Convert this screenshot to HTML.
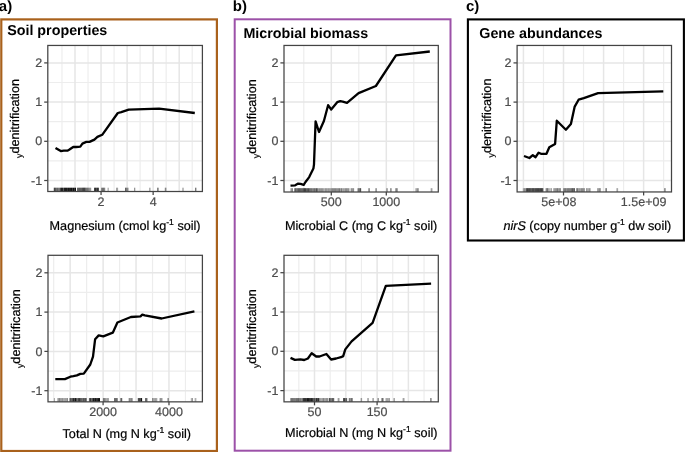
<!DOCTYPE html><html><head><meta charset="utf-8"><style>html,body{margin:0;padding:0;background:#fff;}svg{display:block;text-rendering:geometricPrecision;will-change:transform;filter:blur(0.3px);}</style></head><body>
<svg width="685" height="452" viewBox="0 0 685 452" font-family='"Liberation Sans", sans-serif'>
<rect width="685" height="452" fill="#fff"/>
<rect x="1.3" y="19.4" width="215.6" height="431.6" fill="none" stroke="#a9611c" stroke-width="2.2"/>
<rect x="234.7" y="19.3" width="215.8" height="431.4" fill="none" stroke="#9c51a8" stroke-width="2"/>
<rect x="467.9" y="19.4" width="216" height="221.1" fill="none" stroke="#000" stroke-width="2.1"/>
<g font-size="15" font-weight="bold" fill="#000"><text x="-1.2" y="10.6">a)</text><text x="232.8" y="10.6">b)</text><text x="466" y="10.6">c)</text></g>
<g font-size="14.3" font-weight="bold" fill="#000"><text x="7.2" y="35.2">Soil properties</text><text x="243.4" y="37.9">Microbial biomass</text><text x="479.3" y="37.9">Gene abundances</text></g>
<g stroke="#ededed" stroke-width="1.2"><line x1="47.8" x2="202.4" y1="160.9" y2="160.9"/><line x1="47.8" x2="202.4" y1="121.7" y2="121.7"/><line x1="47.8" x2="202.4" y1="82.5" y2="82.5"/><line x1="61.98" x2="61.98" y1="45.45" y2="191.5"/><line x1="88.03" x2="88.03" y1="45.45" y2="191.5"/><line x1="114.08" x2="114.08" y1="45.45" y2="191.5"/><line x1="140.12" x2="140.12" y1="45.45" y2="191.5"/><line x1="166.18" x2="166.18" y1="45.45" y2="191.5"/><line x1="192.23" x2="192.23" y1="45.45" y2="191.5"/></g>
<g stroke="#e6e6e6" stroke-width="1.5"><line x1="47.8" x2="202.4" y1="180.5" y2="180.5"/><line x1="47.8" x2="202.4" y1="141.3" y2="141.3"/><line x1="47.8" x2="202.4" y1="102.1" y2="102.1"/><line x1="47.8" x2="202.4" y1="62.9" y2="62.9"/><line x1="75" x2="75" y1="45.45" y2="191.5"/><line x1="101.05" x2="101.05" y1="45.45" y2="191.5"/><line x1="127.1" x2="127.1" y1="45.45" y2="191.5"/><line x1="153.15" x2="153.15" y1="45.45" y2="191.5"/><line x1="179.2" x2="179.2" y1="45.45" y2="191.5"/></g>
<g fill="#000"><rect x="53.8" y="187.7" width="1.01" height="3.8" fill-opacity="0.84"/><rect x="54.81" y="187.7" width="1.01" height="3.8" fill-opacity="0.74"/><rect x="55.83" y="187.7" width="1.01" height="3.8" fill-opacity="0.60"/><rect x="56.84" y="187.7" width="1.01" height="3.8" fill-opacity="0.68"/><rect x="57.86" y="187.7" width="1.01" height="3.8" fill-opacity="0.56"/><rect x="58.87" y="187.7" width="1.01" height="3.8" fill-opacity="0.56"/><rect x="59.89" y="187.7" width="1.01" height="3.8" fill-opacity="0.78"/><rect x="60.9" y="187.7" width="1.01" height="3.8" fill-opacity="0.94"/><rect x="61.91" y="187.7" width="1.01" height="3.8" fill-opacity="0.92"/><rect x="62.91" y="187.7" width="1.01" height="3.8" fill-opacity="0.68"/><rect x="63.92" y="187.7" width="1.01" height="3.8" fill-opacity="0.95"/><rect x="64.93" y="187.7" width="1.01" height="3.8" fill-opacity="0.95"/><rect x="65.93" y="187.7" width="1.01" height="3.8" fill-opacity="0.95"/><rect x="66.94" y="187.7" width="1.01" height="3.8" fill-opacity="0.84"/><rect x="67.95" y="187.7" width="1.01" height="3.8" fill-opacity="0.95"/><rect x="68.95" y="187.7" width="1.01" height="3.8" fill-opacity="0.89"/><rect x="69.96" y="187.7" width="1.01" height="3.8" fill-opacity="0.91"/><rect x="70.97" y="187.7" width="1.01" height="3.8" fill-opacity="0.95"/><rect x="71.97" y="187.7" width="1.01" height="3.8" fill-opacity="0.79"/><rect x="72.98" y="187.7" width="1.01" height="3.8" fill-opacity="0.95"/><rect x="73.99" y="187.7" width="1.01" height="3.8" fill-opacity="0.77"/><rect x="74.99" y="187.7" width="1.01" height="3.8" fill-opacity="0.95"/><rect x="77.2" y="187.7" width="1.03" height="3.8" fill-opacity="0.75"/><rect x="78.23" y="187.7" width="1.03" height="3.8" fill-opacity="0.70"/><rect x="79.25" y="187.7" width="1.03" height="3.8" fill-opacity="0.76"/><rect x="80.28" y="187.7" width="1.03" height="3.8" fill-opacity="0.73"/><rect x="81.3" y="187.7" width="1.03" height="3.8" fill-opacity="0.74"/><rect x="82.33" y="187.7" width="1.03" height="3.8" fill-opacity="0.89"/><rect x="83.35" y="187.7" width="1.03" height="3.8" fill-opacity="0.95"/><rect x="84.38" y="187.7" width="1.03" height="3.8" fill-opacity="0.94"/><rect x="85.4" y="187.7" width="0.97" height="3.8" fill-opacity="0.59"/><rect x="86.37" y="187.7" width="0.97" height="3.8" fill-opacity="0.65"/><rect x="87.33" y="187.7" width="0.97" height="3.8" fill-opacity="0.59"/><rect x="88.3" y="187.7" width="0.97" height="3.8" fill-opacity="0.51"/><rect x="89.27" y="187.7" width="0.97" height="3.8" fill-opacity="0.45"/><rect x="90.23" y="187.7" width="0.97" height="3.8" fill-opacity="0.43"/><rect x="94.1" y="187.7" width="0.94" height="3.8" fill-opacity="0.83"/><rect x="95.04" y="187.7" width="0.94" height="3.8" fill-opacity="0.87"/><rect x="95.98" y="187.7" width="0.94" height="3.8" fill-opacity="0.73"/><rect x="96.92" y="187.7" width="0.94" height="3.8" fill-opacity="0.90"/><rect x="97.86" y="187.7" width="0.94" height="3.8" fill-opacity="0.87"/><rect x="101.2" y="187.7" width="1" height="3.8" fill-opacity="0.53"/><rect x="102.2" y="187.7" width="1" height="3.8" fill-opacity="0.63"/><rect x="103.2" y="187.7" width="1" height="3.8" fill-opacity="0.62"/><rect x="104.2" y="187.7" width="1" height="3.8" fill-opacity="0.50"/><rect x="107.6" y="187.7" width="1.1" height="3.8" fill-opacity="0.39"/><rect x="116.3" y="187.7" width="0.9" height="3.8" fill-opacity="0.52"/><rect x="117.2" y="187.7" width="0.9" height="3.8" fill-opacity="0.36"/><rect x="125.1" y="187.7" width="1.13" height="3.8" fill-opacity="0.69"/><rect x="126.23" y="187.7" width="1.13" height="3.8" fill-opacity="0.48"/><rect x="127.37" y="187.7" width="1.13" height="3.8" fill-opacity="0.46"/><rect x="134" y="187.7" width="1.3" height="3.8" fill-opacity="0.41"/><rect x="149.2" y="187.7" width="1.3" height="3.8" fill-opacity="0.39"/><rect x="157.1" y="187.7" width="0.75" height="3.8" fill-opacity="0.57"/><rect x="157.85" y="187.7" width="0.75" height="3.8" fill-opacity="0.56"/><rect x="164.8" y="187.7" width="0.75" height="3.8" fill-opacity="0.49"/><rect x="165.55" y="187.7" width="0.75" height="3.8" fill-opacity="0.57"/><rect x="182.3" y="187.7" width="1.4" height="3.8" fill-opacity="0.36"/><rect x="195" y="187.7" width="1.4" height="3.8" fill-opacity="0.52"/></g>
<polyline points="55.5,147.9 60.8,151.1 63.8,150.7 67.4,150.7 69.1,149.8 73.2,147 76.2,147 80.3,146.6 82.4,143.6 86.3,141.9 89.5,141.9 94.4,139.6 97.4,136.9 102.2,134.8 117.8,113 121.3,112.1 128.7,109.6 159.1,108.6 194.8,113" fill="none" stroke="#000" stroke-width="2.3" stroke-linejoin="round" stroke-linecap="butt"/>
<rect x="47.8" y="45.45" width="154.6" height="146.05" fill="none" stroke="#444444" stroke-width="1.25"/>
<g stroke="#444444" stroke-width="1.25"><line x1="44.2" x2="47.8" y1="180.5" y2="180.5"/><line x1="44.2" x2="47.8" y1="141.3" y2="141.3"/><line x1="44.2" x2="47.8" y1="102.1" y2="102.1"/><line x1="44.2" x2="47.8" y1="62.9" y2="62.9"/><line x1="101.05" x2="101.05" y1="191.5" y2="195"/><line x1="153.15" x2="153.15" y1="191.5" y2="195"/></g>
<g fill="#4d4d4d" stroke="#4d4d4d" stroke-width="0.2" font-size="12.5"><text x="42.2" y="184.6" text-anchor="end">-1</text><text x="42.2" y="145.4" text-anchor="end">0</text><text x="42.2" y="106.2" text-anchor="end">1</text><text x="42.2" y="67" text-anchor="end">2</text><text x="101.05" y="205.7" text-anchor="middle">2</text><text x="153.15" y="205.7" text-anchor="middle">4</text></g>
<text transform="translate(19.4,118.47) rotate(-90)" text-anchor="middle" font-size="12.65" fill="#000" stroke="#000" stroke-width="0.2"><tspan font-size="8.7" dy="3">y</tspan><tspan dy="-3">denitrification</tspan></text>
<text x="125.1" y="229.7" text-anchor="middle" font-size="12.65" fill="#000" stroke="#000" stroke-width="0.2">Magnesium (cmol kg<tspan font-size="8.6" dy="-5">-1</tspan><tspan dy="5"> soil)</tspan></text>
<g stroke="#ededed" stroke-width="1.2"><line x1="48" x2="202.4" y1="371.05" y2="371.05"/><line x1="48" x2="202.4" y1="331.75" y2="331.75"/><line x1="48" x2="202.4" y1="292.45" y2="292.45"/><line x1="53.69" x2="53.69" y1="255.3" y2="401.85"/><line x1="86.63" x2="86.63" y1="255.3" y2="401.85"/><line x1="119.57" x2="119.57" y1="255.3" y2="401.85"/><line x1="152.51" x2="152.51" y1="255.3" y2="401.85"/><line x1="185.45" x2="185.45" y1="255.3" y2="401.85"/></g>
<g stroke="#e6e6e6" stroke-width="1.5"><line x1="48" x2="202.4" y1="390.7" y2="390.7"/><line x1="48" x2="202.4" y1="351.4" y2="351.4"/><line x1="48" x2="202.4" y1="312.1" y2="312.1"/><line x1="48" x2="202.4" y1="272.8" y2="272.8"/><line x1="70.16" x2="70.16" y1="255.3" y2="401.85"/><line x1="103.1" x2="103.1" y1="255.3" y2="401.85"/><line x1="136.04" x2="136.04" y1="255.3" y2="401.85"/><line x1="168.98" x2="168.98" y1="255.3" y2="401.85"/></g>
<g fill="#000"><rect x="53.8" y="398.05" width="1.2" height="3.8" fill-opacity="0.32"/><rect x="57.3" y="398.05" width="0.96" height="3.8" fill-opacity="0.36"/><rect x="58.26" y="398.05" width="0.96" height="3.8" fill-opacity="0.45"/><rect x="59.23" y="398.05" width="0.96" height="3.8" fill-opacity="0.56"/><rect x="60.19" y="398.05" width="0.96" height="3.8" fill-opacity="0.38"/><rect x="61.15" y="398.05" width="0.96" height="3.8" fill-opacity="0.40"/><rect x="62.12" y="398.05" width="0.96" height="3.8" fill-opacity="0.46"/><rect x="63.08" y="398.05" width="0.96" height="3.8" fill-opacity="0.34"/><rect x="64.05" y="398.05" width="0.96" height="3.8" fill-opacity="0.36"/><rect x="65.01" y="398.05" width="0.96" height="3.8" fill-opacity="0.38"/><rect x="65.97" y="398.05" width="0.96" height="3.8" fill-opacity="0.37"/><rect x="66.94" y="398.05" width="0.96" height="3.8" fill-opacity="0.51"/><rect x="69.6" y="398.05" width="1.07" height="3.8" fill-opacity="0.82"/><rect x="70.67" y="398.05" width="1.07" height="3.8" fill-opacity="0.68"/><rect x="71.73" y="398.05" width="1.07" height="3.8" fill-opacity="0.74"/><rect x="72.8" y="398.05" width="1.07" height="3.8" fill-opacity="0.95"/><rect x="73.87" y="398.05" width="1.07" height="3.8" fill-opacity="0.73"/><rect x="74.93" y="398.05" width="1.07" height="3.8" fill-opacity="0.93"/><rect x="76" y="398.05" width="0.96" height="3.8" fill-opacity="0.69"/><rect x="76.96" y="398.05" width="0.96" height="3.8" fill-opacity="0.58"/><rect x="77.93" y="398.05" width="0.96" height="3.8" fill-opacity="0.79"/><rect x="78.89" y="398.05" width="0.96" height="3.8" fill-opacity="0.88"/><rect x="79.85" y="398.05" width="0.96" height="3.8" fill-opacity="0.74"/><rect x="80.82" y="398.05" width="0.96" height="3.8" fill-opacity="0.71"/><rect x="81.78" y="398.05" width="0.96" height="3.8" fill-opacity="0.59"/><rect x="82.75" y="398.05" width="0.96" height="3.8" fill-opacity="0.83"/><rect x="83.71" y="398.05" width="0.96" height="3.8" fill-opacity="0.68"/><rect x="84.67" y="398.05" width="0.96" height="3.8" fill-opacity="0.89"/><rect x="85.64" y="398.05" width="0.96" height="3.8" fill-opacity="0.77"/><rect x="88.9" y="398.05" width="1.01" height="3.8" fill-opacity="0.66"/><rect x="89.91" y="398.05" width="1.01" height="3.8" fill-opacity="0.84"/><rect x="90.92" y="398.05" width="1.01" height="3.8" fill-opacity="0.61"/><rect x="91.93" y="398.05" width="1.01" height="3.8" fill-opacity="0.71"/><rect x="92.94" y="398.05" width="1.01" height="3.8" fill-opacity="0.94"/><rect x="93.95" y="398.05" width="1.01" height="3.8" fill-opacity="0.80"/><rect x="94.95" y="398.05" width="1.01" height="3.8" fill-opacity="0.95"/><rect x="95.96" y="398.05" width="1.01" height="3.8" fill-opacity="0.81"/><rect x="96.97" y="398.05" width="1.01" height="3.8" fill-opacity="0.84"/><rect x="97.98" y="398.05" width="1.01" height="3.8" fill-opacity="0.92"/><rect x="98.99" y="398.05" width="1.01" height="3.8" fill-opacity="0.95"/><rect x="102.9" y="398.05" width="0.97" height="3.8" fill-opacity="0.53"/><rect x="103.87" y="398.05" width="0.97" height="3.8" fill-opacity="0.54"/><rect x="104.83" y="398.05" width="0.97" height="3.8" fill-opacity="0.45"/><rect x="105.8" y="398.05" width="0.97" height="3.8" fill-opacity="0.34"/><rect x="106.77" y="398.05" width="0.97" height="3.8" fill-opacity="0.37"/><rect x="107.73" y="398.05" width="0.97" height="3.8" fill-opacity="0.50"/><rect x="114" y="398.05" width="1" height="3.8" fill-opacity="0.58"/><rect x="115" y="398.05" width="1" height="3.8" fill-opacity="0.58"/><rect x="116" y="398.05" width="1" height="3.8" fill-opacity="0.58"/><rect x="117" y="398.05" width="1" height="3.8" fill-opacity="0.43"/><rect x="120.4" y="398.05" width="0.9" height="3.8" fill-opacity="0.68"/><rect x="121.3" y="398.05" width="0.9" height="3.8" fill-opacity="0.75"/><rect x="128.7" y="398.05" width="1.03" height="3.8" fill-opacity="0.55"/><rect x="129.72" y="398.05" width="1.03" height="3.8" fill-opacity="0.43"/><rect x="130.75" y="398.05" width="1.03" height="3.8" fill-opacity="0.54"/><rect x="131.78" y="398.05" width="1.03" height="3.8" fill-opacity="0.38"/><rect x="137.8" y="398.05" width="1.07" height="3.8" fill-opacity="0.78"/><rect x="138.88" y="398.05" width="1.07" height="3.8" fill-opacity="0.76"/><rect x="139.95" y="398.05" width="1.07" height="3.8" fill-opacity="0.70"/><rect x="141.03" y="398.05" width="1.07" height="3.8" fill-opacity="0.95"/><rect x="145.3" y="398.05" width="1.05" height="3.8" fill-opacity="0.83"/><rect x="146.35" y="398.05" width="1.05" height="3.8" fill-opacity="0.66"/><rect x="152" y="398.05" width="1.06" height="3.8" fill-opacity="0.43"/><rect x="153.06" y="398.05" width="1.06" height="3.8" fill-opacity="0.35"/><rect x="154.12" y="398.05" width="1.06" height="3.8" fill-opacity="0.36"/><rect x="155.18" y="398.05" width="1.06" height="3.8" fill-opacity="0.41"/><rect x="156.24" y="398.05" width="1.06" height="3.8" fill-opacity="0.37"/><rect x="159.6" y="398.05" width="0.97" height="3.8" fill-opacity="0.48"/><rect x="160.57" y="398.05" width="0.97" height="3.8" fill-opacity="0.52"/><rect x="161.53" y="398.05" width="0.97" height="3.8" fill-opacity="0.40"/><rect x="167.2" y="398.05" width="0.9" height="3.8" fill-opacity="0.32"/><rect x="168.1" y="398.05" width="0.9" height="3.8" fill-opacity="0.42"/><rect x="190.8" y="398.05" width="1.05" height="3.8" fill-opacity="0.31"/><rect x="191.85" y="398.05" width="1.05" height="3.8" fill-opacity="0.45"/><rect x="194.7" y="398.05" width="0.85" height="3.8" fill-opacity="0.39"/><rect x="195.55" y="398.05" width="0.85" height="3.8" fill-opacity="0.30"/></g>
<polyline points="55.3,379.2 64.9,379.1 70.4,376.7 73.4,376.2 76.9,375.4 80.3,373.9 83.8,373.7 90.3,364.5 93,356.6 95.1,339.3 98.7,335.4 103.3,336.3 112.8,332.7 117.4,322.5 130.9,317 140.5,316.3 142.3,314.6 144.8,315.4 161.6,318.5 194.4,311.3" fill="none" stroke="#000" stroke-width="2.3" stroke-linejoin="round" stroke-linecap="butt"/>
<rect x="48" y="255.3" width="154.4" height="146.55" fill="none" stroke="#444444" stroke-width="1.25"/>
<g stroke="#444444" stroke-width="1.25"><line x1="44.4" x2="48" y1="390.7" y2="390.7"/><line x1="44.4" x2="48" y1="351.4" y2="351.4"/><line x1="44.4" x2="48" y1="312.1" y2="312.1"/><line x1="44.4" x2="48" y1="272.8" y2="272.8"/><line x1="103.1" x2="103.1" y1="401.85" y2="405.35"/><line x1="168.98" x2="168.98" y1="401.85" y2="405.35"/></g>
<g fill="#4d4d4d" stroke="#4d4d4d" stroke-width="0.2" font-size="12.5"><text x="42.4" y="394.8" text-anchor="end">-1</text><text x="42.4" y="355.5" text-anchor="end">0</text><text x="42.4" y="316.2" text-anchor="end">1</text><text x="42.4" y="276.9" text-anchor="end">2</text><text x="103.1" y="416.05" text-anchor="middle">2000</text><text x="168.98" y="416.05" text-anchor="middle">4000</text></g>
<text transform="translate(19.6,328.58) rotate(-90)" text-anchor="middle" font-size="12.65" fill="#000" stroke="#000" stroke-width="0.2"><tspan font-size="8.7" dy="3">y</tspan><tspan dy="-3">denitrification</tspan></text>
<text x="126.8" y="437.5" text-anchor="middle" font-size="12.65" fill="#000" stroke="#000" stroke-width="0.2">Total N (mg N kg<tspan font-size="8.6" dy="-5">-1</tspan><tspan dy="5"> soil)</tspan></text>
<g stroke="#ededed" stroke-width="1.2"><line x1="284" x2="438.3" y1="160.9" y2="160.9"/><line x1="284" x2="438.3" y1="121.7" y2="121.7"/><line x1="284" x2="438.3" y1="82.5" y2="82.5"/><line x1="303.8" x2="303.8" y1="45.45" y2="192"/><line x1="358.8" x2="358.8" y1="45.45" y2="192"/><line x1="413.8" x2="413.8" y1="45.45" y2="192"/></g>
<g stroke="#e6e6e6" stroke-width="1.5"><line x1="284" x2="438.3" y1="180.5" y2="180.5"/><line x1="284" x2="438.3" y1="141.3" y2="141.3"/><line x1="284" x2="438.3" y1="102.1" y2="102.1"/><line x1="284" x2="438.3" y1="62.9" y2="62.9"/><line x1="331.3" x2="331.3" y1="45.45" y2="192"/><line x1="386.3" x2="386.3" y1="45.45" y2="192"/></g>
<g fill="#000"><rect x="290.4" y="188.2" width="1.2" height="3.8" fill-opacity="0.39"/><rect x="291.6" y="188.2" width="1.2" height="3.8" fill-opacity="0.59"/><rect x="294.5" y="188.2" width="1.02" height="3.8" fill-opacity="0.89"/><rect x="295.52" y="188.2" width="1.02" height="3.8" fill-opacity="0.67"/><rect x="296.55" y="188.2" width="1.02" height="3.8" fill-opacity="0.62"/><rect x="297.57" y="188.2" width="1.02" height="3.8" fill-opacity="0.83"/><rect x="298.6" y="188.2" width="1.02" height="3.8" fill-opacity="0.82"/><rect x="299.62" y="188.2" width="1.02" height="3.8" fill-opacity="0.77"/><rect x="300.65" y="188.2" width="1.02" height="3.8" fill-opacity="0.73"/><rect x="301.68" y="188.2" width="1.02" height="3.8" fill-opacity="0.71"/><rect x="302.7" y="188.2" width="1" height="3.8" fill-opacity="0.77"/><rect x="303.7" y="188.2" width="1" height="3.8" fill-opacity="0.92"/><rect x="304.7" y="188.2" width="1" height="3.8" fill-opacity="0.95"/><rect x="305.7" y="188.2" width="1" height="3.8" fill-opacity="0.72"/><rect x="306.7" y="188.2" width="1" height="3.8" fill-opacity="0.75"/><rect x="307.7" y="188.2" width="1" height="3.8" fill-opacity="0.89"/><rect x="308.7" y="188.2" width="1" height="3.8" fill-opacity="0.71"/><rect x="309.7" y="188.2" width="1.02" height="3.8" fill-opacity="0.62"/><rect x="310.72" y="188.2" width="1.02" height="3.8" fill-opacity="0.66"/><rect x="311.75" y="188.2" width="1.02" height="3.8" fill-opacity="0.53"/><rect x="312.77" y="188.2" width="1.02" height="3.8" fill-opacity="0.56"/><rect x="313.8" y="188.2" width="1.02" height="3.8" fill-opacity="0.65"/><rect x="314.82" y="188.2" width="1.02" height="3.8" fill-opacity="0.53"/><rect x="315.85" y="188.2" width="1.02" height="3.8" fill-opacity="0.74"/><rect x="316.88" y="188.2" width="1.02" height="3.8" fill-opacity="0.58"/><rect x="317.9" y="188.2" width="0.98" height="3.8" fill-opacity="0.39"/><rect x="318.88" y="188.2" width="0.98" height="3.8" fill-opacity="0.47"/><rect x="319.87" y="188.2" width="0.98" height="3.8" fill-opacity="0.43"/><rect x="320.85" y="188.2" width="0.98" height="3.8" fill-opacity="0.47"/><rect x="321.84" y="188.2" width="0.98" height="3.8" fill-opacity="0.46"/><rect x="322.82" y="188.2" width="0.98" height="3.8" fill-opacity="0.40"/><rect x="323.81" y="188.2" width="0.98" height="3.8" fill-opacity="0.29"/><rect x="324.79" y="188.2" width="0.98" height="3.8" fill-opacity="0.46"/><rect x="325.78" y="188.2" width="0.98" height="3.8" fill-opacity="0.45"/><rect x="326.76" y="188.2" width="0.98" height="3.8" fill-opacity="0.36"/><rect x="327.75" y="188.2" width="0.98" height="3.8" fill-opacity="0.45"/><rect x="328.73" y="188.2" width="0.98" height="3.8" fill-opacity="0.42"/><rect x="329.72" y="188.2" width="0.98" height="3.8" fill-opacity="0.37"/><rect x="330.7" y="188.2" width="1.02" height="3.8" fill-opacity="0.38"/><rect x="331.72" y="188.2" width="1.02" height="3.8" fill-opacity="0.53"/><rect x="332.75" y="188.2" width="1.02" height="3.8" fill-opacity="0.51"/><rect x="333.77" y="188.2" width="1.02" height="3.8" fill-opacity="0.52"/><rect x="334.8" y="188.2" width="1.02" height="3.8" fill-opacity="0.53"/><rect x="335.82" y="188.2" width="1.02" height="3.8" fill-opacity="0.47"/><rect x="336.85" y="188.2" width="1.02" height="3.8" fill-opacity="0.46"/><rect x="337.88" y="188.2" width="1.02" height="3.8" fill-opacity="0.48"/><rect x="338.9" y="188.2" width="1.05" height="3.8" fill-opacity="0.55"/><rect x="339.95" y="188.2" width="1.05" height="3.8" fill-opacity="0.37"/><rect x="341" y="188.2" width="1.05" height="3.8" fill-opacity="0.52"/><rect x="342.05" y="188.2" width="1.05" height="3.8" fill-opacity="0.34"/><rect x="343.1" y="188.2" width="1.05" height="3.8" fill-opacity="0.40"/><rect x="344.15" y="188.2" width="1.05" height="3.8" fill-opacity="0.37"/><rect x="345.2" y="188.2" width="1.05" height="3.8" fill-opacity="0.50"/><rect x="346.25" y="188.2" width="1.05" height="3.8" fill-opacity="0.50"/><rect x="347.3" y="188.2" width="1.05" height="3.8" fill-opacity="0.44"/><rect x="348.35" y="188.2" width="1.05" height="3.8" fill-opacity="0.50"/><rect x="350.6" y="188.2" width="0.88" height="3.8" fill-opacity="0.42"/><rect x="351.48" y="188.2" width="0.88" height="3.8" fill-opacity="0.55"/><rect x="352.35" y="188.2" width="0.88" height="3.8" fill-opacity="0.40"/><rect x="353.23" y="188.2" width="0.88" height="3.8" fill-opacity="0.51"/><rect x="357.6" y="188.2" width="0.97" height="3.8" fill-opacity="0.64"/><rect x="358.57" y="188.2" width="0.97" height="3.8" fill-opacity="0.57"/><rect x="359.53" y="188.2" width="0.97" height="3.8" fill-opacity="0.69"/><rect x="360" y="188.2" width="1.2" height="3.8" fill-opacity="0.52"/><rect x="368.2" y="188.2" width="0.85" height="3.8" fill-opacity="0.42"/><rect x="369.05" y="188.2" width="0.85" height="3.8" fill-opacity="0.49"/><rect x="375.2" y="188.2" width="0.85" height="3.8" fill-opacity="0.37"/><rect x="376.05" y="188.2" width="0.85" height="3.8" fill-opacity="0.46"/><rect x="386.3" y="188.2" width="0.85" height="3.8" fill-opacity="0.42"/><rect x="387.15" y="188.2" width="0.85" height="3.8" fill-opacity="0.34"/><rect x="390.1" y="188.2" width="0.85" height="3.8" fill-opacity="0.48"/><rect x="390.95" y="188.2" width="0.85" height="3.8" fill-opacity="0.38"/><rect x="395.4" y="188.2" width="1.1" height="3.8" fill-opacity="0.57"/><rect x="396.5" y="188.2" width="1.1" height="3.8" fill-opacity="0.57"/><rect x="415.5" y="188.2" width="0.88" height="3.8" fill-opacity="0.45"/><rect x="416.38" y="188.2" width="0.88" height="3.8" fill-opacity="0.35"/><rect x="417.25" y="188.2" width="0.88" height="3.8" fill-opacity="0.51"/><rect x="418.12" y="188.2" width="0.88" height="3.8" fill-opacity="0.33"/><rect x="430.7" y="188.2" width="0.85" height="3.8" fill-opacity="0.42"/><rect x="431.55" y="188.2" width="0.85" height="3.8" fill-opacity="0.41"/></g>
<polyline points="290.5,185.6 295.2,185.3 298.2,183.6 300.6,183.8 303.7,184.8 305.5,182 309.2,177.1 313.4,168.6 314,164.3 315.6,121.4 319,132 323.9,121 328.1,105.2 331.2,109.5 337.2,102.2 340.3,101.2 342.7,101.6 347,102.8 358.6,93.1 375.9,86 396,55.3 429.8,51.5" fill="none" stroke="#000" stroke-width="2.3" stroke-linejoin="round" stroke-linecap="butt"/>
<rect x="284" y="45.45" width="154.3" height="146.55" fill="none" stroke="#444444" stroke-width="1.25"/>
<g stroke="#444444" stroke-width="1.25"><line x1="280.4" x2="284" y1="180.5" y2="180.5"/><line x1="280.4" x2="284" y1="141.3" y2="141.3"/><line x1="280.4" x2="284" y1="102.1" y2="102.1"/><line x1="280.4" x2="284" y1="62.9" y2="62.9"/><line x1="331.3" x2="331.3" y1="192" y2="195.5"/><line x1="386.3" x2="386.3" y1="192" y2="195.5"/></g>
<g fill="#4d4d4d" stroke="#4d4d4d" stroke-width="0.2" font-size="12.5"><text x="278.4" y="184.6" text-anchor="end">-1</text><text x="278.4" y="145.4" text-anchor="end">0</text><text x="278.4" y="106.2" text-anchor="end">1</text><text x="278.4" y="67" text-anchor="end">2</text><text x="331.3" y="206.2" text-anchor="middle">500</text><text x="386.3" y="206.2" text-anchor="middle">1000</text></g>
<text transform="translate(255.6,118.72) rotate(-90)" text-anchor="middle" font-size="12.65" fill="#000" stroke="#000" stroke-width="0.2"><tspan font-size="8.7" dy="3">y</tspan><tspan dy="-3">denitrification</tspan></text>
<text x="361.1" y="229.9" text-anchor="middle" font-size="12.65" fill="#000" stroke="#000" stroke-width="0.2">Microbial C (mg C kg<tspan font-size="8.6" dy="-5">-1</tspan><tspan dy="5"> soil)</tspan></text>
<g stroke="#ededed" stroke-width="1.2"><line x1="284" x2="438.3" y1="370.95" y2="370.95"/><line x1="284" x2="438.3" y1="331.65" y2="331.65"/><line x1="284" x2="438.3" y1="292.35" y2="292.35"/><line x1="298.85" x2="298.85" y1="255.3" y2="401.85"/><line x1="330.15" x2="330.15" y1="255.3" y2="401.85"/><line x1="361.45" x2="361.45" y1="255.3" y2="401.85"/><line x1="392.75" x2="392.75" y1="255.3" y2="401.85"/><line x1="424.05" x2="424.05" y1="255.3" y2="401.85"/></g>
<g stroke="#e6e6e6" stroke-width="1.5"><line x1="284" x2="438.3" y1="390.6" y2="390.6"/><line x1="284" x2="438.3" y1="351.3" y2="351.3"/><line x1="284" x2="438.3" y1="312" y2="312"/><line x1="284" x2="438.3" y1="272.7" y2="272.7"/><line x1="314.5" x2="314.5" y1="255.3" y2="401.85"/><line x1="345.8" x2="345.8" y1="255.3" y2="401.85"/><line x1="377.1" x2="377.1" y1="255.3" y2="401.85"/><line x1="408.4" x2="408.4" y1="255.3" y2="401.85"/></g>
<g fill="#000"><rect x="290.4" y="398.05" width="1.06" height="3.8" fill-opacity="0.60"/><rect x="291.46" y="398.05" width="1.06" height="3.8" fill-opacity="0.71"/><rect x="292.52" y="398.05" width="1.06" height="3.8" fill-opacity="0.60"/><rect x="293.58" y="398.05" width="1.06" height="3.8" fill-opacity="0.63"/><rect x="294.64" y="398.05" width="1.06" height="3.8" fill-opacity="0.54"/><rect x="295.7" y="398.05" width="1" height="3.8" fill-opacity="0.66"/><rect x="296.7" y="398.05" width="1" height="3.8" fill-opacity="0.63"/><rect x="297.7" y="398.05" width="1" height="3.8" fill-opacity="0.73"/><rect x="298.7" y="398.05" width="1" height="3.8" fill-opacity="0.52"/><rect x="299.7" y="398.05" width="1" height="3.8" fill-opacity="0.62"/><rect x="300.7" y="398.05" width="1" height="3.8" fill-opacity="0.49"/><rect x="301.7" y="398.05" width="1" height="3.8" fill-opacity="0.51"/><rect x="302.7" y="398.05" width="1.05" height="3.8" fill-opacity="0.95"/><rect x="303.75" y="398.05" width="1.05" height="3.8" fill-opacity="0.95"/><rect x="304.8" y="398.05" width="1.05" height="3.8" fill-opacity="0.92"/><rect x="305.85" y="398.05" width="1.05" height="3.8" fill-opacity="0.82"/><rect x="306.9" y="398.05" width="1.05" height="3.8" fill-opacity="0.95"/><rect x="307.95" y="398.05" width="1.05" height="3.8" fill-opacity="0.89"/><rect x="309" y="398.05" width="1.05" height="3.8" fill-opacity="0.81"/><rect x="310.05" y="398.05" width="1.05" height="3.8" fill-opacity="0.83"/><rect x="311.1" y="398.05" width="1.05" height="3.8" fill-opacity="0.95"/><rect x="312.15" y="398.05" width="1.05" height="3.8" fill-opacity="0.89"/><rect x="313.2" y="398.05" width="0.97" height="3.8" fill-opacity="0.69"/><rect x="314.17" y="398.05" width="0.97" height="3.8" fill-opacity="0.74"/><rect x="315.13" y="398.05" width="0.97" height="3.8" fill-opacity="0.59"/><rect x="316.1" y="398.05" width="0.97" height="3.8" fill-opacity="0.91"/><rect x="317.07" y="398.05" width="0.97" height="3.8" fill-opacity="0.74"/><rect x="318.03" y="398.05" width="0.97" height="3.8" fill-opacity="0.84"/><rect x="319" y="398.05" width="1.04" height="3.8" fill-opacity="0.46"/><rect x="320.04" y="398.05" width="1.04" height="3.8" fill-opacity="0.37"/><rect x="321.09" y="398.05" width="1.04" height="3.8" fill-opacity="0.35"/><rect x="322.13" y="398.05" width="1.04" height="3.8" fill-opacity="0.41"/><rect x="323.18" y="398.05" width="1.04" height="3.8" fill-opacity="0.55"/><rect x="324.22" y="398.05" width="1.04" height="3.8" fill-opacity="0.37"/><rect x="325.27" y="398.05" width="1.04" height="3.8" fill-opacity="0.42"/><rect x="326.31" y="398.05" width="1.04" height="3.8" fill-opacity="0.50"/><rect x="327.36" y="398.05" width="1.04" height="3.8" fill-opacity="0.49"/><rect x="329" y="398.05" width="1.04" height="3.8" fill-opacity="0.69"/><rect x="330.04" y="398.05" width="1.04" height="3.8" fill-opacity="0.55"/><rect x="331.08" y="398.05" width="1.04" height="3.8" fill-opacity="0.54"/><rect x="332.12" y="398.05" width="1.04" height="3.8" fill-opacity="0.70"/><rect x="333.16" y="398.05" width="1.04" height="3.8" fill-opacity="0.68"/><rect x="337.7" y="398.05" width="0.9" height="3.8" fill-opacity="0.47"/><rect x="338.6" y="398.05" width="0.9" height="3.8" fill-opacity="0.39"/><rect x="343" y="398.05" width="1.03" height="3.8" fill-opacity="0.68"/><rect x="344.02" y="398.05" width="1.03" height="3.8" fill-opacity="0.76"/><rect x="345.05" y="398.05" width="1.03" height="3.8" fill-opacity="0.53"/><rect x="346.08" y="398.05" width="1.03" height="3.8" fill-opacity="0.66"/><rect x="348.8" y="398.05" width="1.02" height="3.8" fill-opacity="0.58"/><rect x="349.82" y="398.05" width="1.02" height="3.8" fill-opacity="0.44"/><rect x="350.85" y="398.05" width="1.02" height="3.8" fill-opacity="0.63"/><rect x="351.88" y="398.05" width="1.02" height="3.8" fill-opacity="0.46"/><rect x="360.5" y="398.05" width="0.8" height="3.8" fill-opacity="0.30"/><rect x="361.3" y="398.05" width="0.8" height="3.8" fill-opacity="0.44"/><rect x="367.2" y="398.05" width="0.8" height="3.8" fill-opacity="0.34"/><rect x="368" y="398.05" width="0.8" height="3.8" fill-opacity="0.39"/><rect x="372.3" y="398.05" width="0.75" height="3.8" fill-opacity="0.34"/><rect x="373.05" y="398.05" width="0.75" height="3.8" fill-opacity="0.43"/><rect x="377.5" y="398.05" width="1.4" height="3.8" fill-opacity="0.46"/><rect x="381.4" y="398.05" width="1" height="3.8" fill-opacity="0.55"/><rect x="382.4" y="398.05" width="1" height="3.8" fill-opacity="0.77"/><rect x="385.5" y="398.05" width="1.08" height="3.8" fill-opacity="0.36"/><rect x="386.57" y="398.05" width="1.08" height="3.8" fill-opacity="0.41"/><rect x="387.65" y="398.05" width="1.08" height="3.8" fill-opacity="0.31"/><rect x="388.73" y="398.05" width="1.08" height="3.8" fill-opacity="0.46"/><rect x="393.3" y="398.05" width="0.85" height="3.8" fill-opacity="0.31"/><rect x="394.15" y="398.05" width="0.85" height="3.8" fill-opacity="0.37"/><rect x="402.6" y="398.05" width="0.9" height="3.8" fill-opacity="0.36"/><rect x="403.5" y="398.05" width="0.9" height="3.8" fill-opacity="0.47"/><rect x="430.1" y="398.05" width="0.85" height="3.8" fill-opacity="0.48"/><rect x="430.95" y="398.05" width="0.85" height="3.8" fill-opacity="0.38"/></g>
<polyline points="290.5,357.9 294.9,359.9 300.4,359.4 304.2,360 307.9,358.5 311.7,353.2 316.2,356.5 319.5,356.5 326.4,354 331.1,359.5 336.1,358.5 341,357.2 343.2,356.1 345.3,349.4 351.6,341.4 372.6,322.9 385.8,285.8 431.1,283.6" fill="none" stroke="#000" stroke-width="2.3" stroke-linejoin="round" stroke-linecap="butt"/>
<rect x="284" y="255.3" width="154.3" height="146.55" fill="none" stroke="#444444" stroke-width="1.25"/>
<g stroke="#444444" stroke-width="1.25"><line x1="280.4" x2="284" y1="390.6" y2="390.6"/><line x1="280.4" x2="284" y1="351.3" y2="351.3"/><line x1="280.4" x2="284" y1="312" y2="312"/><line x1="280.4" x2="284" y1="272.7" y2="272.7"/><line x1="314.5" x2="314.5" y1="401.85" y2="405.35"/><line x1="377.1" x2="377.1" y1="401.85" y2="405.35"/></g>
<g fill="#4d4d4d" stroke="#4d4d4d" stroke-width="0.2" font-size="12.5"><text x="278.4" y="394.7" text-anchor="end">-1</text><text x="278.4" y="355.4" text-anchor="end">0</text><text x="278.4" y="316.1" text-anchor="end">1</text><text x="278.4" y="276.8" text-anchor="end">2</text><text x="314.5" y="416.05" text-anchor="middle">50</text><text x="377.1" y="416.05" text-anchor="middle">150</text></g>
<text transform="translate(255.6,328.58) rotate(-90)" text-anchor="middle" font-size="12.65" fill="#000" stroke="#000" stroke-width="0.2"><tspan font-size="8.7" dy="3">y</tspan><tspan dy="-3">denitrification</tspan></text>
<text x="361.3" y="437" text-anchor="middle" font-size="12.65" fill="#000" stroke="#000" stroke-width="0.2">Microbial N (mg N kg<tspan font-size="8.6" dy="-5">-1</tspan><tspan dy="5"> soil)</tspan></text>
<g stroke="#ededed" stroke-width="1.2"><line x1="517.1" x2="671.5" y1="160.9" y2="160.9"/><line x1="517.1" x2="671.5" y1="121.7" y2="121.7"/><line x1="517.1" x2="671.5" y1="82.5" y2="82.5"/><line x1="543.47" x2="543.47" y1="45.45" y2="191.95"/><line x1="583.53" x2="583.53" y1="45.45" y2="191.95"/><line x1="623.59" x2="623.59" y1="45.45" y2="191.95"/><line x1="663.65" x2="663.65" y1="45.45" y2="191.95"/></g>
<g stroke="#e6e6e6" stroke-width="1.5"><line x1="517.1" x2="671.5" y1="180.5" y2="180.5"/><line x1="517.1" x2="671.5" y1="141.3" y2="141.3"/><line x1="517.1" x2="671.5" y1="102.1" y2="102.1"/><line x1="517.1" x2="671.5" y1="62.9" y2="62.9"/><line x1="523.44" x2="523.44" y1="45.45" y2="191.95"/><line x1="563.5" x2="563.5" y1="45.45" y2="191.95"/><line x1="603.56" x2="603.56" y1="45.45" y2="191.95"/><line x1="643.62" x2="643.62" y1="45.45" y2="191.95"/></g>
<g fill="#000"><rect x="522.8" y="188.15" width="1" height="3.8" fill-opacity="0.29"/><rect x="523.8" y="188.15" width="1" height="3.8" fill-opacity="0.48"/><rect x="524.8" y="188.15" width="1" height="3.8" fill-opacity="0.37"/><rect x="525.8" y="188.15" width="0.95" height="3.8" fill-opacity="0.76"/><rect x="526.75" y="188.15" width="0.95" height="3.8" fill-opacity="0.95"/><rect x="527.7" y="188.15" width="0.95" height="3.8" fill-opacity="0.87"/><rect x="528.65" y="188.15" width="0.95" height="3.8" fill-opacity="0.90"/><rect x="529.6" y="188.15" width="0.95" height="3.8" fill-opacity="0.95"/><rect x="530.55" y="188.15" width="0.95" height="3.8" fill-opacity="0.73"/><rect x="531.5" y="188.15" width="0.95" height="3.8" fill-opacity="0.88"/><rect x="532.45" y="188.15" width="0.95" height="3.8" fill-opacity="0.95"/><rect x="533.4" y="188.15" width="0.99" height="3.8" fill-opacity="0.91"/><rect x="534.39" y="188.15" width="0.99" height="3.8" fill-opacity="0.76"/><rect x="535.38" y="188.15" width="0.99" height="3.8" fill-opacity="0.95"/><rect x="536.37" y="188.15" width="0.99" height="3.8" fill-opacity="0.90"/><rect x="537.36" y="188.15" width="0.99" height="3.8" fill-opacity="0.95"/><rect x="538.35" y="188.15" width="0.99" height="3.8" fill-opacity="0.95"/><rect x="539.34" y="188.15" width="0.99" height="3.8" fill-opacity="0.86"/><rect x="540.33" y="188.15" width="0.99" height="3.8" fill-opacity="0.95"/><rect x="541.32" y="188.15" width="0.99" height="3.8" fill-opacity="0.95"/><rect x="542.31" y="188.15" width="0.99" height="3.8" fill-opacity="0.83"/><rect x="545.6" y="188.15" width="0.97" height="3.8" fill-opacity="0.49"/><rect x="546.57" y="188.15" width="0.97" height="3.8" fill-opacity="0.61"/><rect x="547.53" y="188.15" width="0.97" height="3.8" fill-opacity="0.68"/><rect x="549.1" y="188.15" width="0.97" height="3.8" fill-opacity="0.31"/><rect x="550.07" y="188.15" width="0.97" height="3.8" fill-opacity="0.25"/><rect x="551.03" y="188.15" width="0.97" height="3.8" fill-opacity="0.37"/><rect x="553.2" y="188.15" width="0.95" height="3.8" fill-opacity="0.36"/><rect x="554.15" y="188.15" width="0.95" height="3.8" fill-opacity="0.41"/><rect x="555.1" y="188.15" width="0.95" height="3.8" fill-opacity="0.43"/><rect x="556.05" y="188.15" width="0.95" height="3.8" fill-opacity="0.45"/><rect x="557" y="188.15" width="0.95" height="3.8" fill-opacity="0.55"/><rect x="557.95" y="188.15" width="0.95" height="3.8" fill-opacity="0.40"/><rect x="558.9" y="188.15" width="0.95" height="3.8" fill-opacity="0.46"/><rect x="559.85" y="188.15" width="0.95" height="3.8" fill-opacity="0.55"/><rect x="563.1" y="188.15" width="1.06" height="3.8" fill-opacity="0.42"/><rect x="564.16" y="188.15" width="1.06" height="3.8" fill-opacity="0.55"/><rect x="565.22" y="188.15" width="1.06" height="3.8" fill-opacity="0.60"/><rect x="566.28" y="188.15" width="1.06" height="3.8" fill-opacity="0.46"/><rect x="567.34" y="188.15" width="1.06" height="3.8" fill-opacity="0.64"/><rect x="568.4" y="188.15" width="1.07" height="3.8" fill-opacity="0.59"/><rect x="569.47" y="188.15" width="1.07" height="3.8" fill-opacity="0.60"/><rect x="570.53" y="188.15" width="1.07" height="3.8" fill-opacity="0.57"/><rect x="571.6" y="188.15" width="1.07" height="3.8" fill-opacity="0.84"/><rect x="572.67" y="188.15" width="1.07" height="3.8" fill-opacity="0.63"/><rect x="573.73" y="188.15" width="1.07" height="3.8" fill-opacity="0.80"/><rect x="576" y="188.15" width="0.98" height="3.8" fill-opacity="0.41"/><rect x="576.98" y="188.15" width="0.98" height="3.8" fill-opacity="0.55"/><rect x="577.96" y="188.15" width="0.98" height="3.8" fill-opacity="0.37"/><rect x="578.93" y="188.15" width="0.98" height="3.8" fill-opacity="0.41"/><rect x="579.91" y="188.15" width="0.98" height="3.8" fill-opacity="0.37"/><rect x="580.89" y="188.15" width="0.98" height="3.8" fill-opacity="0.49"/><rect x="581.87" y="188.15" width="0.98" height="3.8" fill-opacity="0.49"/><rect x="582.84" y="188.15" width="0.98" height="3.8" fill-opacity="0.42"/><rect x="583.82" y="188.15" width="0.98" height="3.8" fill-opacity="0.48"/><rect x="586" y="188.15" width="0.92" height="3.8" fill-opacity="0.41"/><rect x="586.92" y="188.15" width="0.92" height="3.8" fill-opacity="0.35"/><rect x="587.84" y="188.15" width="0.92" height="3.8" fill-opacity="0.32"/><rect x="588.76" y="188.15" width="0.92" height="3.8" fill-opacity="0.47"/><rect x="589.68" y="188.15" width="0.92" height="3.8" fill-opacity="0.40"/><rect x="597.1" y="188.15" width="0.88" height="3.8" fill-opacity="0.38"/><rect x="597.98" y="188.15" width="0.88" height="3.8" fill-opacity="0.39"/><rect x="598.85" y="188.15" width="0.88" height="3.8" fill-opacity="0.47"/><rect x="599.73" y="188.15" width="0.88" height="3.8" fill-opacity="0.59"/><rect x="605.3" y="188.15" width="0.85" height="3.8" fill-opacity="0.48"/><rect x="606.15" y="188.15" width="0.85" height="3.8" fill-opacity="0.54"/><rect x="616.4" y="188.15" width="0.85" height="3.8" fill-opacity="0.34"/><rect x="617.25" y="188.15" width="0.85" height="3.8" fill-opacity="0.39"/><rect x="664" y="188.15" width="0.85" height="3.8" fill-opacity="0.43"/><rect x="664.85" y="188.15" width="0.85" height="3.8" fill-opacity="0.46"/></g>
<polyline points="524,156 529.4,158 532.8,155.2 535.6,157.2 538.6,152.7 541,153.8 546.5,153.8 549.3,147.2 555.1,143.9 556.8,120.7 565.9,129.8 570.9,124 574.7,106.6 578.6,99.7 583.8,98.2 598.1,93.1 663.3,91.4" fill="none" stroke="#000" stroke-width="2.3" stroke-linejoin="round" stroke-linecap="butt"/>
<rect x="517.1" y="45.45" width="154.4" height="146.5" fill="none" stroke="#444444" stroke-width="1.25"/>
<g stroke="#444444" stroke-width="1.25"><line x1="513.5" x2="517.1" y1="180.5" y2="180.5"/><line x1="513.5" x2="517.1" y1="141.3" y2="141.3"/><line x1="513.5" x2="517.1" y1="102.1" y2="102.1"/><line x1="513.5" x2="517.1" y1="62.9" y2="62.9"/><line x1="563.5" x2="563.5" y1="191.95" y2="195.45"/><line x1="643.62" x2="643.62" y1="191.95" y2="195.45"/></g>
<g fill="#4d4d4d" stroke="#4d4d4d" stroke-width="0.2" font-size="12.5"><text x="511.5" y="184.6" text-anchor="end">-1</text><text x="511.5" y="145.4" text-anchor="end">0</text><text x="511.5" y="106.2" text-anchor="end">1</text><text x="511.5" y="67" text-anchor="end">2</text><text x="558.8" y="206.15" text-anchor="middle">5e+08</text><text x="643.62" y="206.15" text-anchor="middle">1.5e+09</text></g>
<text transform="translate(491.2,118) rotate(-90)" text-anchor="middle" font-size="12.65" fill="#000" stroke="#000" stroke-width="0.2"><tspan font-size="8.7" dy="3">y</tspan><tspan dy="-3">denitrification</tspan></text>
<text x="587.3" y="230.2" text-anchor="middle" font-size="12.65" fill="#000" stroke="#000" stroke-width="0.2"><tspan font-style="italic">nirS</tspan> (copy number g<tspan font-size="8.6" dy="-5">-1</tspan><tspan dy="5"> dw soil)</tspan></text>
</svg></body></html>
